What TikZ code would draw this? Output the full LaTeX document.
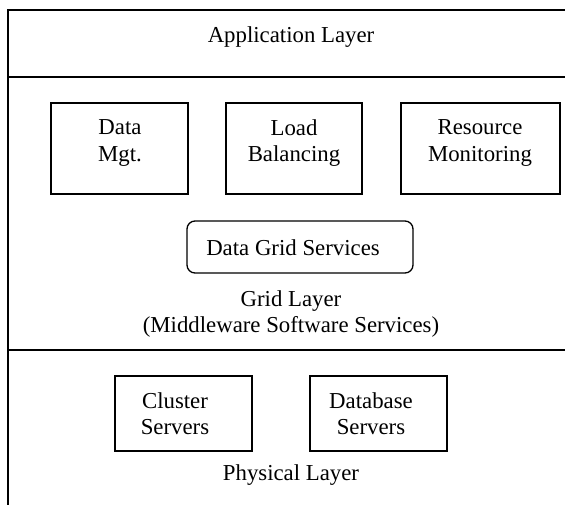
\documentclass[tikz,border=0pt]{standalone}
\usepackage{fontspec}
\setmainfont{Liberation Serif}
\begin{document}
\begin{tikzpicture}[x=1pt,y=-1pt,
  box/.style={draw=black,line width=1.3pt,inner sep=0pt,fill=none},
  rbox/.style={draw=black,line width=1.3pt,rounded corners=8pt,inner sep=0pt},
  txt/.style={inner sep=0pt,align=center,font=\fontsize{22.8}{26.5}\selectfont},
  frameline/.style={draw=black,line width=1.3pt}]
\useasboundingbox (0,0) rectangle (565,504);
\clip (0,0) rectangle (565,504);
% outer frame and layer dividers (frame runs past the right and bottom edges)
\draw[frameline] (8,10) rectangle (574,515);
\coordinate (l1a) at (8,77);
\coordinate (l1b) at (574,77);
\coordinate (l2a) at (8,350);
\coordinate (l2b) at (574,350);
\draw[frameline] (l1a) -- (l1b);
\draw[frameline] (l2a) -- (l2b);
% application layer
\node[txt] (app) at (291,37) {Application Layer};
% grid layer boxes
\node[box,minimum width=137pt,minimum height=91pt] (dmbox) at (119.5,148.5) {};
\node[txt] (dm) at (120,143) {Data\\Mgt.};
\node[box,minimum width=136pt,minimum height=91pt] (lbbox) at (294,148.5) {};
\node[txt] (lb) at (294,143) {Load\\Balancing};
\node[box,minimum width=159pt,minimum height=91pt] (rmbox) at (480.5,148.5) {};
\node[txt] (rm) at (480,143) {Resource\\Monitoring};
\node[rbox,minimum width=226pt,minimum height=52pt] (dgbox) at (300,247) {};
\node[txt] (dg) at (293,248) {Data Grid Services};
\node[txt] (grid) at (291,314) {Grid Layer\\(Middleware Software Services)};
% physical layer
\node[box,minimum width=137pt,minimum height=75pt] (csbox) at (183.5,413.5) {};
\node[txt] (cs) at (175,413.5) {Cluster\\Servers};
\node[box,minimum width=137pt,minimum height=75pt] (dbbox) at (378.5,413.5) {};
\node[txt] (db) at (371,413.5) {Database\\Servers};
\node[txt] (phys) at (291,475) {Physical Layer};
\end{tikzpicture}
\end{document}
